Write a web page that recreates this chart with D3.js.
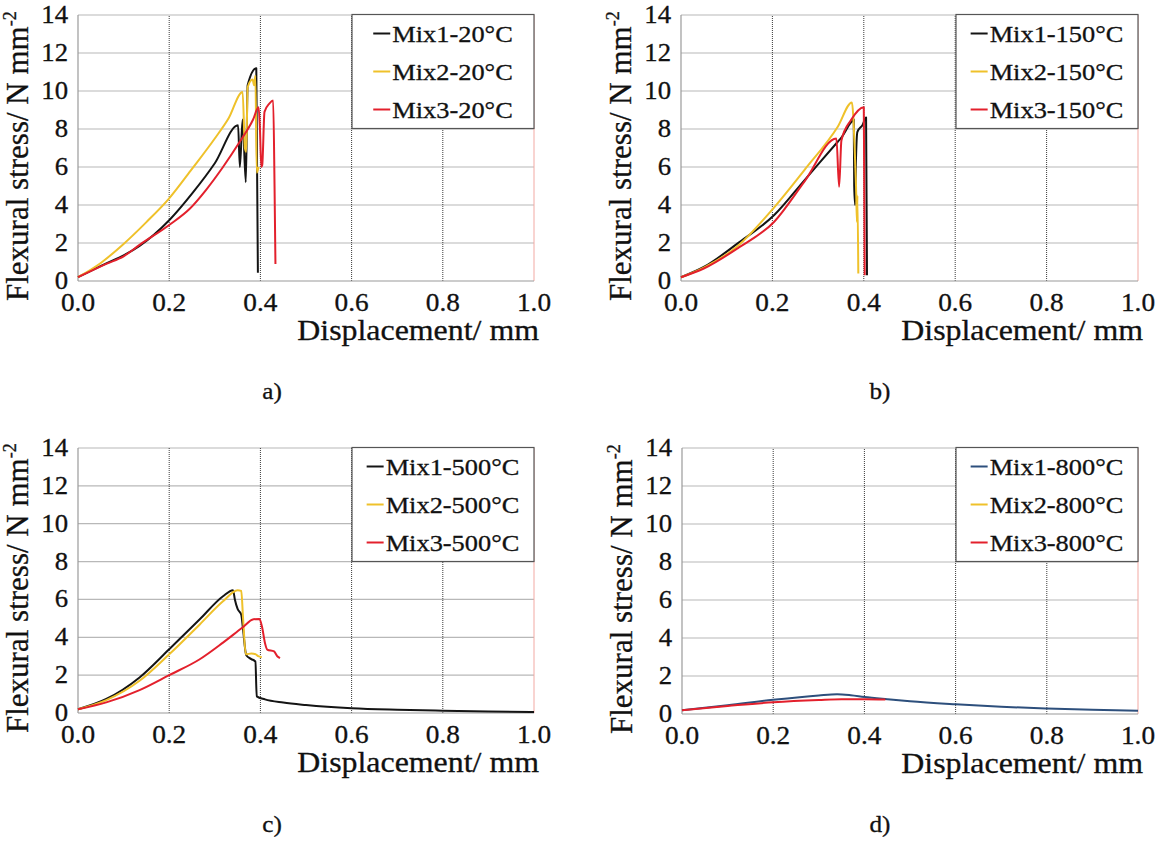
<!DOCTYPE html>
<html>
<head>
<meta charset="utf-8">
<script src="https://cdn.jsdelivr.net/npm/d3@7"></script>
<style>
  html, body { margin: 0; padding: 0; background: #fff; }
  svg { display: block; }
</style>
</head>
<body>
<svg id="chart" width="1160" height="842"></svg>
<script>
// ---------------- DATA ----------------
const xTicks = [0.0, 0.2, 0.4, 0.6, 0.8, 1.0];
const yTicks = [0, 2, 4, 6, 8, 10, 12, 14];
const xTitle = "Displacement/ mm";
const yTitle = "Flexural stress/ N mm";
const yTitleSup = "-2";
const captions = ["a)", "b)", "c)", "d)"];

// a) 20°C
const a_labels = ["Mix1-20°C", "Mix2-20°C", "Mix3-20°C"];
const a_mix1 = [[0,0.2],[0.062,0.93],[0.1,1.35],[0.135,1.85],[0.2,3.2],[0.25,4.6],[0.3,6.2],[0.351,8.2],[0.355,6.0],[0.361,8.5],[0.368,5.2],[0.372,10.3],[0.391,11.2],[0.3945,0.44]];
const a_mix2 = [[0,0.2],[0.05,0.95],[0.1,1.95],[0.15,3.1],[0.2,4.35],[0.25,5.9],[0.3,7.5],[0.33,8.55],[0.361,9.95],[0.366,7.0],[0.369,6.8],[0.372,10.2],[0.383,10.6],[0.386,10.3],[0.389,10.8],[0.392,5.7],[0.396,6.0]];
const a_mix3 = [[0,0.2],[0.062,0.9],[0.1,1.3],[0.135,1.9],[0.2,2.95],[0.245,3.8],[0.281,4.8],[0.318,6.0],[0.354,7.3],[0.384,8.5],[0.396,9.15],[0.399,8.0],[0.402,6.0],[0.404,6.1],[0.409,8.9],[0.42,9.35],[0.428,9.5],[0.431,5.0],[0.433,0.9]];

// b) 150°C
const b_labels = ["Mix1-150°C", "Mix2-150°C", "Mix3-150°C"];
const b_mix1 = [[0,0.2],[0.051,0.75],[0.124,1.98],[0.204,3.47],[0.27,5.3],[0.343,7.33],[0.351,7.55],[0.372,8.35],[0.378,8.5],[0.379,5.0],[0.381,4.0],[0.383,6.5],[0.386,7.85],[0.397,8.2],[0.405,8.6],[0.407,0.3]];
const b_mix2 = [[0,0.2],[0.051,0.72],[0.124,1.84],[0.204,3.88],[0.27,5.84],[0.343,8.12],[0.374,9.4],[0.38,7.0],[0.383,5.0],[0.385,3.1],[0.386,4.5],[0.388,0.4]];
const b_mix3 = [[0,0.2],[0.051,0.67],[0.124,1.72],[0.204,3.12],[0.27,5.23],[0.34,7.5],[0.346,4.96],[0.351,7.4],[0.372,8.47],[0.4,9.15],[0.402,0.3]];

// c) 500°C
const c_labels = ["Mix1-500°C", "Mix2-500°C", "Mix3-500°C"];
const c_mix1 = [[0,0.2],[0.062,0.74],[0.135,1.88],[0.2,3.37],[0.267,4.95],[0.318,6.17],[0.34,6.49],[0.344,6.0],[0.35,5.5],[0.358,5.2],[0.362,4.4],[0.369,3.05],[0.38,2.85],[0.389,2.72],[0.392,0.88],[0.41,0.72],[0.45,0.55],[0.5,0.42],[0.6,0.25],[0.7,0.17],[0.8,0.12],[0.9,0.08],[1.0,0.05]];
const c_mix2 = [[0,0.2],[0.062,0.68],[0.135,1.7],[0.2,3.1],[0.267,4.68],[0.318,5.9],[0.35,6.49],[0.358,6.45],[0.362,5.0],[0.368,3.1],[0.38,3.15],[0.39,3.1],[0.395,3.0],[0.403,2.95]];
const c_mix3 = [[0,0.2],[0.062,0.56],[0.135,1.21],[0.2,2.0],[0.267,2.84],[0.318,3.72],[0.36,4.5],[0.385,4.95],[0.398,4.97],[0.404,4.5],[0.41,3.7],[0.415,3.35],[0.43,3.25],[0.437,3.0],[0.443,2.9]];

// d) 800°C
const d_labels = ["Mix1-800°C", "Mix2-800°C", "Mix3-800°C"];
const d_mix1 = [[0,0.2],[0.1,0.46],[0.2,0.75],[0.3,0.98],[0.34,1.04],[0.37,0.99],[0.4,0.9],[0.45,0.78],[0.5,0.67],[0.6,0.51],[0.7,0.38],[0.8,0.29],[0.9,0.22],[1.0,0.17]];
const d_mix2 = [];
const d_mix3 = [[0,0.2],[0.1,0.42],[0.2,0.62],[0.3,0.74],[0.35,0.78],[0.4,0.78],[0.446,0.76]];

// ---------------- STYLE / LAYOUT ----------------
const BLACK = "#141414", YELLOW = "#efc12a", RED = "#e3202c", BLUE = "#2d4f7c";
const FONT = "Liberation Serif, Times New Roman, serif";

const panels = [
  { box:[78, 534, 281, 15],  labels:a_labels, series:[a_mix1,a_mix2,a_mix3], colors:[BLACK,YELLOW,RED], cap:[272,399] },
  { box:[681,1138,281, 15],  labels:b_labels, series:[b_mix1,b_mix2,b_mix3], colors:[BLACK,YELLOW,RED], cap:[880,399] },
  { box:[78, 534, 713,448],  labels:c_labels, series:[c_mix1,c_mix2,c_mix3], colors:[BLACK,YELLOW,RED], cap:[272,832] },
  { box:[682,1138,714,448],  labels:d_labels, series:[d_mix1,d_mix2,d_mix3], colors:[BLUE,YELLOW,RED],  cap:[880,832] }
];

const svg = d3.select("#chart");
svg.append("rect").attr("width",1160).attr("height",842).attr("fill","#fff");

function addText(g, x, y, str, o) {
  const t = g.append("text")
    .attr("transform", `translate(${x},${y}) scale(${o.sx||1},1)` + (o.rot ? ` rotate(${o.rot})` : ""))
    .attr("font-family", FONT)
    .attr("font-size", o.size)
    .attr("text-anchor", o.anchor || "start")
    .attr("fill", "#111")
    .attr("stroke", "#111").attr("stroke-width", 0.3)
    .text(str);
  return t;
}

panels.forEach((p, pi) => {
  const [x0, x1, y0, y1] = p.box;
  const x = d3.scaleLinear().domain([0, 1]).range([x0, x1]);
  const y = d3.scaleLinear().domain([0, 14]).range([y0, y1]);
  const g = svg.append("g");

  // horizontal gridlines
  g.selectAll(".hg").data(yTicks.filter(v => v > 0)).join("line")
    .attr("x1", x0).attr("x2", x1)
    .attr("y1", d => y(d)).attr("y2", d => y(d))
    .attr("stroke", "#b8b8b8").attr("stroke-width", 1.2);
  // vertical dotted gridlines
  g.selectAll(".vg").data(xTicks.filter(v => v > 0 && v < 1)).join("line")
    .attr("x1", d => x(d)).attr("x2", d => x(d))
    .attr("y1", y0).attr("y2", y1)
    .attr("stroke", "#3a3a3a").attr("stroke-width", 1).attr("stroke-dasharray", "1,1");
  // right border (light red)
  g.append("line").attr("x1", x1).attr("x2", x1).attr("y1", y1).attr("y2", y0)
    .attr("stroke", "#f2a9a3").attr("stroke-width", 1);
  // axes lines
  g.append("line").attr("x1", x0).attr("x2", x0).attr("y1", y1).attr("y2", y0)
    .attr("stroke", "#9a9a9a").attr("stroke-width", 1.2);
  g.append("line").attr("x1", x0).attr("x2", x1).attr("y1", y0).attr("y2", y0)
    .attr("stroke", "#9a9a9a").attr("stroke-width", 1.2);

  // tick labels
  yTicks.forEach(v => addText(g, x0 - 10, y(v) + 8, String(v), {size:25, anchor:"end", sx:1.07}));
  xTicks.forEach(v => addText(g, x(v), y0 + 30, d3.format(".1f")(v), {size:26, anchor:"middle", sx:1.05}));

  // axis titles
  addText(g, x1 + 5, y0 + 59, xTitle, {size:29, anchor:"end", sx:1.1});
  const yt = g.append("text")
    .attr("transform", `translate(${x0 - 50},${y0 + 20}) rotate(-90)`)
    .attr("font-family", FONT).attr("font-size", 31).attr("fill", "#111")
    .attr("stroke", "#111").attr("stroke-width", 0.3);
  yt.append("tspan").text(yTitle);
  yt.append("tspan").attr("font-size", 18).attr("dy", -12).text(yTitleSup);

  // curves
  const line = d3.line().x(d => x(d[0])).y(d => y(d[1])).curve(d3.curveMonotoneX);
  p.series.forEach((s, si) => {
    if (!s.length) return;
    g.append("path").datum(s).attr("d", line)
      .attr("fill", "none").attr("stroke", p.colors[si])
      .attr("stroke-width", 2).attr("stroke-linejoin", "round");
  });

  // legend
  const lw = 182, lh = 114;
  const lx = x1 - lw, ly = y1 - 0.5;
  g.append("rect").attr("x", lx).attr("y", ly).attr("width", lw).attr("height", lh)
    .attr("fill", "#fff").attr("stroke", "#555").attr("stroke-width", 1.2);
  p.labels.forEach((lab, li) => {
    const base = ly + 27 + li * 38;
    const t = addText(g, 0, base, lab, {size:24, sx:1.1});
    const w = t.node().getComputedTextLength() * 1.1;
    const total = 19 + w;
    const start = lx + lw / 2 - total / 2;
    t.attr("transform", `translate(${start + 19},${base}) scale(1.1,1)`);
    g.append("line").attr("x1", start).attr("x2", start + 17)
      .attr("y1", base - 8).attr("y2", base - 8)
      .attr("stroke", p.colors[li]).attr("stroke-width", 2);
  });

  // caption
  addText(svg, p.cap[0], p.cap[1], captions[pi], {size:24, anchor:"middle", sx:1.05});
});
</script>
</body>
</html>
